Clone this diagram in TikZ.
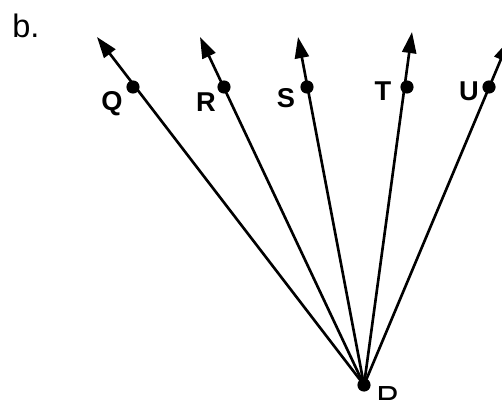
\documentclass[tikz,border=0pt]{standalone}
\usepackage{fontspec}
\setmainfont{Liberation Sans}
\usetikzlibrary{arrows.meta}

\tikzset{
  ray/.style={line width=1.5pt, -{Triangle[length=12pt,width=8pt]}},
  pt/.style={circle, fill=black, inner sep=0pt, minimum size=7.5pt},
  lbl/.style={font=\fontsize{15.5}{17}\selectfont\bfseries, inner sep=0pt}
}

\begin{document}
\begin{tikzpicture}[x=0.02cm, y=-0.02cm]
    % Rahmen:
    \useasboundingbox (0,0) rectangle (502,399);
    \clip (0,0) rectangle (502,399);
    % Scheitel:
    \coordinate (P) at (364,385);
    % Endpunkte der Strahlen:
    \coordinate (tQ) at (97,37);
    \coordinate (tR) at (200,37);
    \coordinate (tS) at (298,37);
    \coordinate (tT) at (412,32);
    \coordinate (tU) at (509,40);
    % Strahlen:
    \draw[ray] (P) -- (tQ);
    \draw[ray] (P) -- (tR);
    \draw[ray] (P) -- (tS);
    \draw[ray] (P) -- (tT);
    \draw[ray] (P) -- (tU);
    % Punkte:
    \node[pt] (P0) at (P) {};
    \node[pt] (Q) at (133,87) {};
    \node[pt] (R) at (224,87) {};
    \node[pt] (S) at (307,87) {};
    \node[pt] (T) at (407,87) {};
    \node[pt] (U) at (489,87) {};
    % Beschriftungen:
    \node[lbl] (lQ) at (112,104) {Q};
    \node[lbl] (lR) at (206,102) {R};
    \node[lbl] (lS) at (286,98) {S};
    \node[lbl] (lT) at (383,91) {T};
    \node[lbl] (lU) at (469,91) {U};
    \node[font=\fontsize{19}{22}\selectfont, inner sep=0pt, anchor=north west] (lP) at (376,386) {P};
    \node[font=\fontsize{18.5}{22}\selectfont, inner sep=0pt, anchor=base west] (titel) at (12,37) {b.};
\end{tikzpicture}
\end{document}
